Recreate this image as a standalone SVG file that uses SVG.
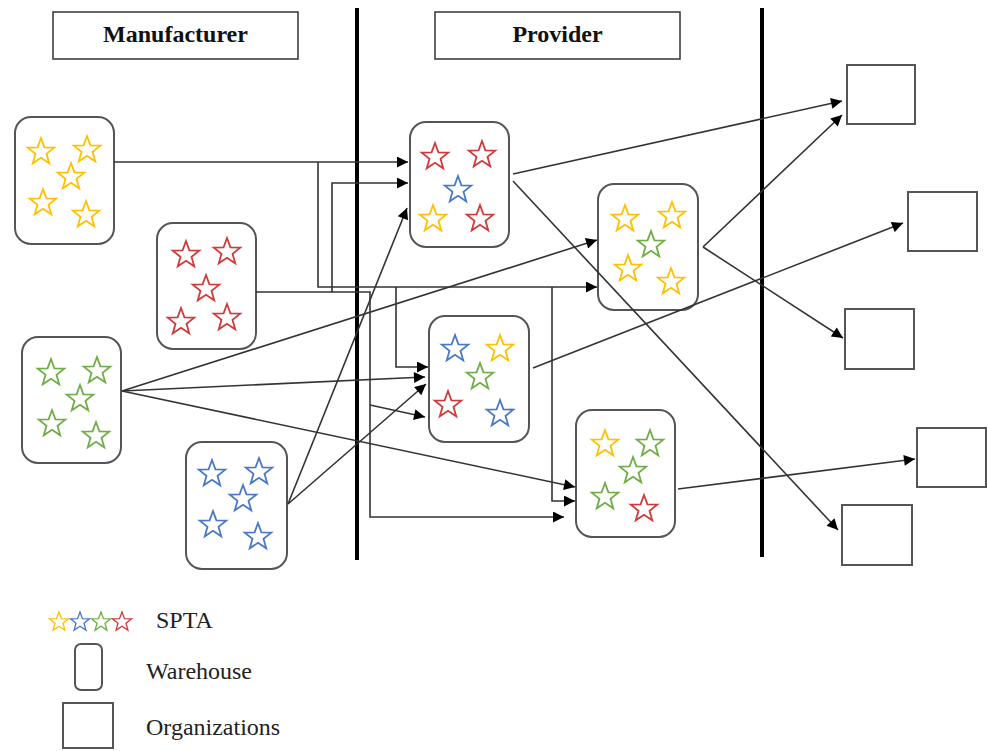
<svg xmlns="http://www.w3.org/2000/svg" width="987" height="751" viewBox="0 0 987 751">
<style>
.hdr{fill:#fff;stroke:#333;stroke-width:1.5}
.ht{font-family:"Liberation Serif",serif;font-weight:bold;font-size:24px;fill:#111;text-anchor:middle}
.wh{fill:#fff;stroke:#555;stroke-width:2}
.org{fill:#fff;stroke:#555;stroke-width:2}
.div{stroke:#000;stroke-width:4}
.c{fill:none;stroke:#333;stroke-width:1.6}
.a{marker-end:url(#arr)}
.y{fill:#fff;stroke:#FFC000;stroke-width:1.8}
.r{fill:#fff;stroke:#D03A3A;stroke-width:1.8}
.g{fill:#fff;stroke:#70AD47;stroke-width:1.8}
.b{fill:#fff;stroke:#4A78C8;stroke-width:1.8}
.lt{font-family:"Liberation Serif",serif;font-size:24px;fill:#222}
</style>
<defs>
<path id="st" d="M0,-14 L3.41,-4.69 L13.31,-4.33 L5.52,1.79 L8.23,11.33 L0,5.8 L-8.23,11.33 L-5.52,1.79 L-13.31,-4.33 L-3.41,-4.69 Z"/>
<marker id="arr" viewBox="0 0 10 10" refX="10" refY="5" markerWidth="13" markerHeight="11" markerUnits="userSpaceOnUse" orient="auto">
<path d="M0,0 L10,5 L0,10 Z" fill="#000"/>
</marker>
</defs>
<rect width="987" height="751" fill="#fff"/>

<g id="headers">
<rect class="hdr" x="53" y="12" width="245" height="47"/>
<text class="ht" x="175.5" y="42">Manufacturer</text>
<rect class="hdr" x="435" y="12" width="245" height="47"/>
<text class="ht" x="557.5" y="42">Provider</text>
</g>

<g id="dividers">
<line class="div" x1="357" y1="8" x2="357" y2="560"/>
<line class="div" x1="762" y1="8" x2="762" y2="557"/>
</g>

<g id="w1">
<rect class="wh" x="15" y="117" width="99" height="127" rx="16"/>
<use href="#st" class="y" x="41" y="152"/>
<use href="#st" class="y" x="87" y="150"/>
<use href="#st" class="y" x="71" y="177"/>
<use href="#st" class="y" x="43" y="203"/>
<use href="#st" class="y" x="86" y="215"/>
</g>
<g id="w2">
<rect class="wh" x="157" y="223" width="99" height="126" rx="16"/>
<use href="#st" class="r" x="186" y="255"/>
<use href="#st" class="r" x="227" y="252"/>
<use href="#st" class="r" x="206" y="289"/>
<use href="#st" class="r" x="181" y="322"/>
<use href="#st" class="r" x="227" y="318"/>
</g>
<g id="w3">
<rect class="wh" x="22" y="337" width="99" height="126" rx="16"/>
<use href="#st" class="g" x="51" y="373"/>
<use href="#st" class="g" x="97" y="371"/>
<use href="#st" class="g" x="80" y="399"/>
<use href="#st" class="g" x="52" y="424"/>
<use href="#st" class="g" x="96" y="436"/>
</g>
<g id="w4">
<rect class="wh" x="186" y="442" width="101" height="127" rx="16"/>
<use href="#st" class="b" x="212" y="474"/>
<use href="#st" class="b" x="259" y="472"/>
<use href="#st" class="b" x="243" y="499"/>
<use href="#st" class="b" x="213" y="525"/>
<use href="#st" class="b" x="258" y="537"/>
</g>

<g id="p1">
<rect class="wh" x="410" y="122" width="99" height="125" rx="16"/>
<use href="#st" class="r" x="435" y="157"/>
<use href="#st" class="r" x="482" y="155"/>
<use href="#st" class="b" x="458" y="190"/>
<use href="#st" class="y" x="433" y="219"/>
<use href="#st" class="r" x="480" y="219"/>
</g>
<g id="p2">
<rect class="wh" x="598" y="184" width="100" height="126" rx="16"/>
<use href="#st" class="y" x="625" y="219"/>
<use href="#st" class="y" x="672" y="216"/>
<use href="#st" class="g" x="651" y="245"/>
<use href="#st" class="y" x="628" y="269"/>
<use href="#st" class="y" x="671" y="282"/>
</g>
<g id="p3">
<rect class="wh" x="429" y="316" width="100" height="126" rx="16"/>
<use href="#st" class="b" x="455" y="349"/>
<use href="#st" class="y" x="500" y="349"/>
<use href="#st" class="g" x="480" y="377"/>
<use href="#st" class="r" x="448" y="405"/>
<use href="#st" class="b" x="500" y="414"/>
</g>
<g id="p4">
<rect class="wh" x="576" y="410" width="99" height="127" rx="16"/>
<use href="#st" class="y" x="605" y="444"/>
<use href="#st" class="g" x="650" y="444"/>
<use href="#st" class="g" x="633" y="471"/>
<use href="#st" class="g" x="605" y="497"/>
<use href="#st" class="r" x="644" y="509"/>
</g>

<g id="o1"><rect class="org" x="847" y="65" width="68" height="59"/></g>
<g id="o2"><rect class="org" x="908" y="192" width="69" height="59"/></g>
<g id="o3"><rect class="org" x="845" y="309" width="69" height="60"/></g>
<g id="o4"><rect class="org" x="917" y="428" width="69" height="59"/></g>
<g id="o5"><rect class="org" x="842" y="505" width="70" height="60"/></g>

<g id="connectors">
<path class="c a" d="M114,162 H408"/>
<path class="c a" d="M318,162 V287 H597"/>
<path class="c a" d="M396,287 V367 H428"/>
<path class="c a" d="M552,287 V501 H575"/>
<path class="c a" d="M256,292 H332 V183 H408"/>
<path class="c a" d="M332,292 H370 V517 H564"/>
<path class="c a" d="M370,405 L425,417"/>
<path class="c a" d="M122,391 L597,240"/>
<path class="c a" d="M122,391 L425,377"/>
<path class="c a" d="M122,391 L575,487"/>
<path class="c a" d="M288,504 L407,208"/>
<path class="c a" d="M288,504 L426,384"/>
<path class="c a" d="M513,174 L842,101"/>
<path class="c a" d="M513,181 L838,530"/>
<path class="c a" d="M703,247 L842,115"/>
<path class="c a" d="M703,247 L843,338"/>
<path class="c a" d="M533,368 L903,223"/>
<path class="c a" d="M678,489 L915,459"/>
</g>

<g id="legend">
<use href="#st" class="y" transform="translate(59,622) scale(0.72)"/>
<use href="#st" class="b" transform="translate(80,622) scale(0.72)"/>
<use href="#st" class="g" transform="translate(101,622) scale(0.72)"/>
<use href="#st" class="r" transform="translate(122,622) scale(0.72)"/>
<text class="lt" x="156" y="628">SPTA</text>
<rect class="wh" x="75" y="644" width="27" height="46" rx="6"/>
<text class="lt" x="146" y="679">Warehouse</text>
<rect class="org" x="63" y="703" width="50" height="45"/>
<text class="lt" x="146" y="735">Organizations</text>
</g>
</svg>
